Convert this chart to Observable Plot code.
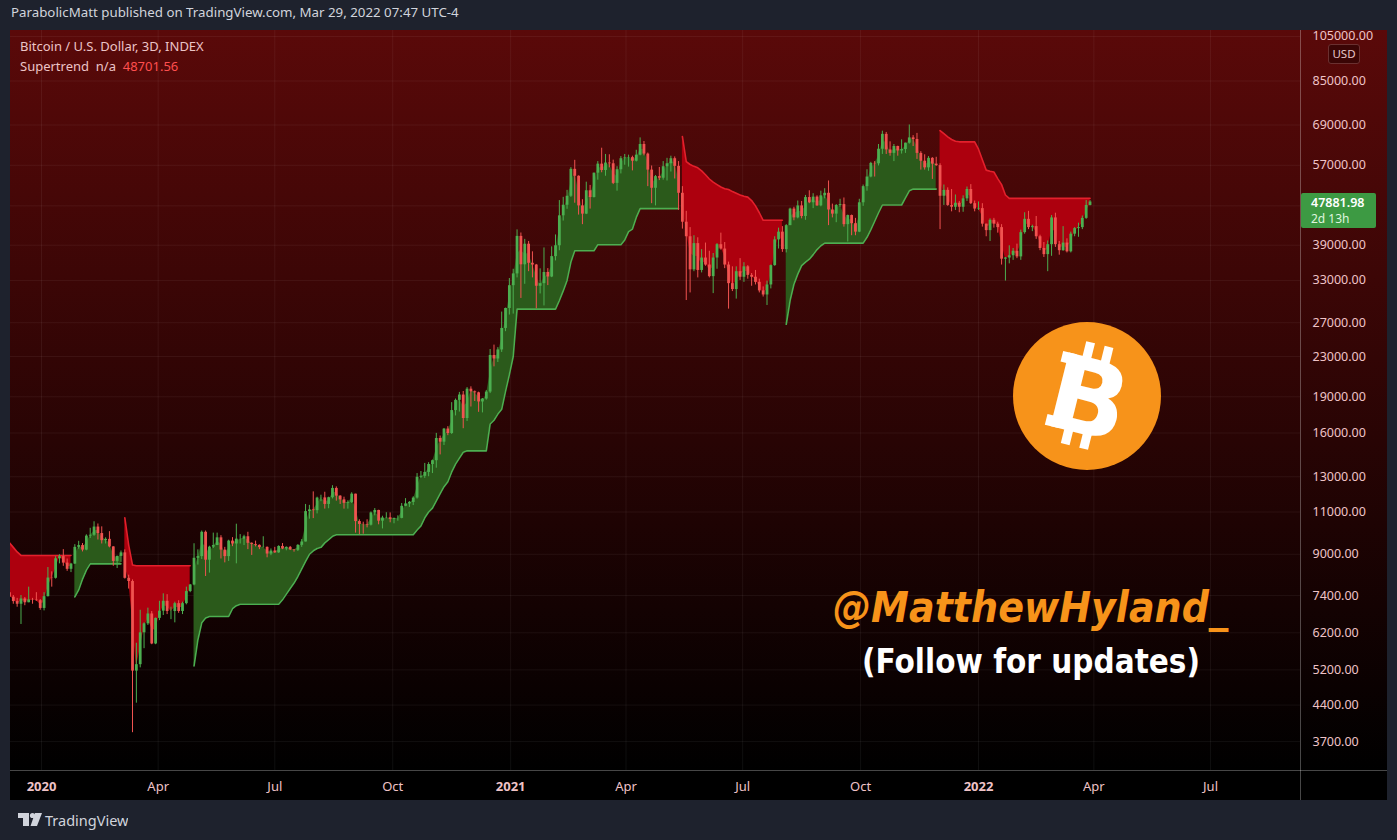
<!DOCTYPE html>
<html>
<head>
<meta charset="utf-8">
<script src="https://cdn.jsdelivr.net/npm/d3@7"></script>
<script src="https://cdn.jsdelivr.net/npm/@observablehq/plot@0.6"></script>
<style>
  html, body { margin: 0; padding: 0; }
  body { width: 1397px; height: 840px; background: #1e222d; position: relative; overflow: hidden; font-family: "Noto Sans", sans-serif; }
  #top { position: absolute; left: 11px; top: 3px; font-size: 13.3px; color: #d1d4dc; }
  #pane { position: absolute; left: 10px; top: 30px; width: 1377px; height: 770px;
          background: linear-gradient(to bottom, #5a0909 0px, #000000 740px, #000 740px, #000 770px); }
  #chart { position: absolute; left: 0; top: 0; }
  #vsep { position: absolute; left: 1290px; top: 0; width: 1px; height: 770px; background: rgba(255,255,255,0.28); }
  #hsep { position: absolute; left: 0; top: 740px; width: 1377px; height: 1px; background: rgba(255,255,255,0.28); }
  .leg { position: absolute; left: 10px; font-size: 13px; color: #ecc4c7; white-space: pre; }
  #usd { position: absolute; left: 1318px; top: 14px; width: 30px; height: 18px; border: 1px solid #6a3030; border-radius: 3px;
         background: #3a0505; color: #e8c6c9; font-size: 11.5px; text-align: center; line-height: 18px; }
  #price { position: absolute; left: 1291px; top: 163px; width: 75px; height: 35px; background: #3d9a43; border-radius: 2px; }
  #price .p { position: absolute; left: 10px; top: 1px; font-size: 12.5px; font-weight: 600; color: #ffffff; }
  #price .t { position: absolute; left: 10px; top: 17px; font-size: 12px; color: #dff5df; }
  #foot { position: absolute; left: 18px; top: 810px; }
</style>
</head>
<body>
<div id="top">ParabolicMatt published on TradingView.com, Mar 29, 2022 07:47 UTC-4</div>
<div id="pane">
  <div id="chart"></div>
  <div id="vsep"></div>
  <div id="hsep"></div>
  <div class="leg" style="top:7px">Bitcoin / U.S. Dollar, 3D, INDEX</div>
  <div class="leg" style="top:27px">Supertrend  n/a  <span style="color:#ff4f4f">48701.56</span></div>
  <div id="usd">USD</div>
  <div id="price"><div class="p">47881.98</div><div class="t">2d 13h</div></div>
</div>
<svg id="ov" width="1397" height="840" style="position:absolute;left:0;top:0;pointer-events:none">
  <circle cx="1087" cy="396" r="74" fill="#f7931a"/>
  <g transform="translate(1087,396) rotate(14)" fill="#ffffff">
    <rect x="-14" y="-53" width="9" height="18"/>
    <rect x="5" y="-53" width="9" height="18"/>
    <rect x="-14" y="34" width="9" height="18"/>
    <rect x="5" y="34" width="9" height="18"/>
    <rect x="-34" y="-38" width="14" height="11"/>
    <rect x="-34" y="27" width="14" height="11"/>
    <text x="2" y="38" text-anchor="middle" font-family="DejaVu Sans" font-weight="bold" font-size="104">B</text>
  </g>
  <text x="833" y="622" font-family="DejaVu Sans" font-weight="bold" font-style="italic" font-size="42" fill="#f7931a" textLength="395" lengthAdjust="spacingAndGlyphs">@MatthewHyland_</text>
  <text x="862" y="673" font-family="DejaVu Sans" font-weight="bold" font-size="34" fill="#ffffff" textLength="338" lengthAdjust="spacingAndGlyphs">(Follow for updates)</text>
</svg>
<div id="foot">
  <svg width="110" height="22">
    <rect x="0" y="3" width="11" height="5" fill="#d1d4dc"/>
    <rect x="5" y="3" width="6" height="13" fill="#d1d4dc"/>
    <circle cx="14.5" cy="5.5" r="2.6" fill="#d1d4dc"/>
    <polygon points="17,3 24,3 19,16 12.5,16" fill="#d1d4dc"/>
    <text x="27" y="15.5" font-family="Noto Sans" font-size="14.5" fill="#d1d4dc">TradingView</text>
  </svg>
</div>
<script>
// ---------- data (3-day candles, BTC/USD index) ----------
const firstBar = "2019-12-07";
const barDays = 3;
const firstOpen = 7500;
const closes = [
7340,7190,7100,7280,7150,7250,7240,7220,6960,7360,
8040,8030,8810,8900,8630,8380,8590,9300,9380,9180,
9810,9850,10240,9930,9600,9660,9320,8700,8910,9060,
8030,7910,5170,5330,6200,6470,6780,5880,6640,6870,
7200,6860,6860,7120,6860,7120,7540,7780,8830,8900,
9990,8750,9310,9380,9730,9180,8900,9580,9450,9670,
9670,9780,9480,9430,9390,9290,9300,9010,9140,9060,
9340,9230,9300,9190,9170,9390,9540,11020,11110,11070,
11750,11760,11400,11770,12300,11860,11650,11460,11500,11970,
10510,10370,10360,10330,10950,11080,10530,10690,10700,10620,
10670,10670,11300,11430,11510,11750,12970,13030,13270,13780,
14030,15590,15320,16300,15960,17800,18680,19160,17140,19700,
19450,19360,18540,18800,19430,23110,22730,23730,26280,28890,
32190,34040,40670,35540,39190,35800,35500,32100,32500,34270,
33540,36950,38900,44840,47150,49200,55900,54100,47000,45200,
50500,48900,54900,57300,55600,57600,57400,52300,55800,58800,
59000,59100,58100,59800,62900,60100,55700,51100,54000,53600,
56600,57400,58800,56700,49900,43500,40600,34700,39300,34600,
36700,35500,33600,36700,39100,38300,35500,32500,31600,34400,
33500,35200,33800,33500,32700,31400,30800,32300,35400,40000,
41500,38200,42800,46300,44400,47000,44700,48900,47700,49000,
47000,49300,49900,46100,45200,47100,47300,43000,44900,43200,
41500,47700,51500,53900,57500,57400,61500,66000,61300,60300,
62300,61000,61400,63300,64900,64400,60300,58100,56300,58900,
57300,56900,49200,50600,47100,46700,47600,46700,48600,50800,
47500,46300,46400,43100,41800,43900,43100,42400,36500,36700,
37100,37900,36900,41400,44100,42400,42600,40600,38400,37300,
39100,44400,39100,38000,39400,37800,41100,42200,42400,44300,
47100,47881.98
];
const highs = [
7650,7400,7300,7400,7330,7700,7300,7500,7260,7500,
8450,8280,8900,8980,9200,8800,8620,9420,9570,9470,
9870,10180,10500,10390,10250,9730,10020,9330,8920,9140,
9190,8150,7970,5900,6900,6500,6970,6860,6650,7200,
7460,7430,7000,7170,7220,7170,7700,7800,9460,9190,
10050,10050,9350,9950,9950,9830,9300,9620,9740,10380,
9880,9850,9990,9500,9580,9410,9780,9320,9230,9300,
9370,9470,9320,9340,9200,9420,9650,11400,11350,12100,
11800,11910,12080,11800,12460,12390,11880,11800,11600,12050,
11970,10600,10480,10600,11000,11180,11090,10780,10960,10950,
10680,10800,11450,11720,11560,11820,13200,13330,13850,13900,
14070,15970,15770,16350,16490,18480,18800,19400,19480,19850,
19920,19530,19420,18850,19570,23780,24280,23990,28400,28940,
33300,34800,41950,41330,40100,39700,37800,35600,34870,38500,
34900,38700,40950,48200,48950,50600,56350,58350,54200,48400,
52600,51800,54900,58000,61800,60000,59900,58400,56600,59400,
60000,59800,59500,61200,64900,63800,60400,56800,54300,56400,
58000,58900,59500,59300,58000,51500,45800,42400,40800,40400,
38200,39400,37900,37500,39300,41300,39500,36000,35200,35200,
36600,35900,35400,34100,34600,33200,32000,32900,35500,40600,
42300,42600,43000,46500,46700,48100,48000,49400,50500,49800,
49300,50400,51000,52900,47400,47300,48500,48800,45000,45000,
44300,48500,51900,55800,57800,58000,62900,67000,66600,63700,
62900,62400,64300,63300,69000,65600,66300,60800,59900,59400,
59100,59200,57400,51900,51200,50800,49500,48000,49300,51400,
52000,48100,47900,47500,43100,44200,44300,43500,43000,36800,
38900,38400,39200,41900,45500,45800,42900,44700,40900,39500,
39800,44900,45400,39700,42600,40200,41500,42400,43300,44800,
48200,48200
];
const lows = [
7300,7100,7000,6450,7050,7150,7100,7200,6900,6880,
7350,7700,8000,8600,8500,8300,8250,8580,9220,9100,
9150,9700,9800,9630,9450,9450,9280,8500,8410,8660,
8000,7630,3860,4440,5250,5750,6420,5860,5860,6570,
6730,6760,6600,6500,6800,6760,7080,7500,7750,8550,
8780,8100,8230,9250,9380,8800,8640,8700,9330,8600,
9450,9380,9200,8950,9320,9200,9270,8850,8940,9040,
9040,9200,9150,9160,9090,9120,9300,9540,10630,10660,
10900,11550,11150,11170,11700,11580,11400,11150,11150,11450,
9950,9880,9900,10200,10290,10800,10350,10150,10650,10450,
10400,10530,10650,11280,11240,11340,11690,12900,12900,13000,
13200,13540,14420,15080,15800,15890,17350,17670,16330,16900,
18100,18580,17650,17600,18700,19290,21900,22360,23450,25880,
28000,28130,33400,30300,32400,34400,33400,28850,30950,29240,
32200,33440,36200,37990,43740,46250,48930,47600,45000,43000,
45100,46300,48800,53100,55000,54100,56300,52000,50400,54700,
57000,56500,55500,57900,59600,59600,51500,47500,47000,53000,
53100,52900,55200,53400,46000,42100,30000,31100,34400,33400,
34200,35300,33400,31000,34800,38100,34900,28800,31300,30200,
33000,32700,33200,32100,32300,31100,30500,29300,31700,35300,
38300,37700,37600,42800,43800,44200,44200,43900,47500,46400,
46900,46800,48600,42800,44400,43400,46700,42500,39600,40800,
40800,41400,46900,50400,53700,53900,56800,60000,60000,59500,
58000,59500,60100,60300,63000,62300,58600,55700,55700,55400,
53300,56700,42000,47100,46900,45700,46000,45500,45600,48000,
47300,45700,46000,42500,40600,39700,42300,41300,35500,32900,
35700,36300,36600,36300,41100,42000,41600,40100,38000,36800,
34400,37000,38600,37200,37900,37600,37600,40600,40500,42000,
44100,47000
];
const supertrend = [
9500,9300,9100,8950,8950,8950,8950,8950,8950,8950,
8950,8950,8950,8950,8950,8950,8950,7350,7600,8000,
8350,8600,8600,8600,8600,8600,8600,8600,8600,8600,
10700,9400,8550,8520,8520,8520,8520,8520,8520,8520,
8520,8520,8520,8520,8520,8520,8520,8520,5300,6000,
6500,6650,6700,6700,6700,6700,6700,6700,6950,7050,
7100,7100,7100,7100,7100,7100,7100,7100,7100,7100,
7100,7250,7450,7650,7850,8100,8400,8700,9000,9150,
9250,9300,9500,9650,9800,9870,9870,9870,9870,9870,
9870,9870,9870,9870,9870,9870,9870,9870,9870,9870,
9870,9870,9870,9870,9870,9870,10100,10300,10700,11000,
11200,11600,12000,12400,12700,13300,13800,14200,14600,14700,
14700,14700,14700,14700,14700,16700,17000,17500,17900,19500,
21100,23000,28800,28800,28800,28800,28800,28800,28800,28800,
28800,28800,28800,30000,31400,33000,36000,38000,38000,38000,
38000,38000,38000,39100,39100,39100,39100,39100,39100,39100,
40000,41600,42100,44500,46400,46400,46400,46400,46400,46400,
46400,46400,46400,46400,46400,65300,58000,57200,56700,56300,
55500,54500,53400,52600,52000,51400,51000,50800,50300,49900,
49500,49200,49000,48200,47000,45500,43900,43900,43900,43900,
43900,43900,26800,30000,32400,34000,35400,36000,36500,37300,
38200,38900,39400,39400,39400,39400,39400,39400,39400,39400,
39400,39400,39400,40500,42000,43700,45500,47200,47200,47200,
47200,47200,47200,48800,50500,50900,50900,50900,50900,50900,
50900,50900,67200,66200,65200,64400,63900,63700,63700,63700,
63700,63700,61500,58500,55700,55400,55200,53500,52000,49500,
48701.56,48701.56,48701.56,48701.56,48701.56,48701.56,48701.56,48701.56,48701.56,48701.56,
48701.56,48701.56,48701.56,48701.56,48701.56,48701.56,48701.56,48701.56,48701.56,48701.56,
48701.56,48701.56
];
// grid levels of the price scale; the 47000 level's label sits under the live-price tag
const yTicks = [3700,4400,5200,6200,7400,9000,11000,13000,16000,19000,23000,27000,33000,39000,47000,57000,69000,85000,105000];
const yLabelTicks = [3700,4400,5200,6200,7400,9000,11000,13000,16000,19000,23000,27000,33000,39000,57000,69000,85000,105000];
const yearTicks = ["2020-01-01","2021-01-01","2022-01-01"];
const monthTicks = ["2020-04-01","2020-07-01","2020-10-01","2021-04-01","2021-07-01","2021-10-01","2022-04-01","2022-07-01"];

// ---------- build table ----------
const DAY = 864e5;
const t0 = Date.parse(firstBar + "T00:00:00Z");
const bars = closes.map((c, i) => {
  const o = i ? closes[i - 1] : firstOpen;
  return {date: new Date(t0 + i * barDays * DAY), open: o, close: c, high: highs[i], low: lows[i],
          st: supertrend[i], mid: (o + c) / 2, up: c >= o, dir: supertrend[i] < c ? 1 : -1};
});
let seg = 0;
bars.forEach((b, i) => { if (i && b.dir !== bars[i - 1].dir) seg++; b.seg = seg; });
const upBars = bars.filter(d => d.dir > 0);
const dnBars = bars.filter(d => d.dir < 0);
const yearDates = yearTicks.map(s => new Date(s + "T00:00:00Z"));
const monthDates = monthTicks.map(s => new Date(s + "T00:00:00Z"));
const allX = yearDates.concat(monthDates);

const G = "#4caf50", R = "#f05350";
const jan2020 = Date.UTC(2020, 0, 1);

const chart = Plot.plot({
  width: 1377, height: 770,
  marginLeft: 0, marginRight: 87, marginTop: 0, marginBottom: 30,
  style: {background: "transparent", color: "#efc3c7", fontFamily: "'Noto Sans', sans-serif", fontSize: "12.5px", overflow: "visible"},
  x: {type: "utc", domain: [new Date(jan2020 - 24.19 * DAY), new Date(jan2020 + 982.2 * DAY)]},
  y: {type: "log", domain: [3226, 108030]},
  marks: [
    Plot.ruleY(yTicks, {stroke: "#ffffff", strokeOpacity: 0.06}),
    Plot.ruleX(allX, {stroke: "#ffffff", strokeOpacity: 0.06}),
    Plot.areaY(upBars, {x: "date", y1: "mid", y2: "st", z: "seg", fill: "#2b5a1b", clip: true}),
    Plot.areaY(dnBars, {x: "date", y1: "mid", y2: "st", z: "seg", fill: "#ad000e", clip: true}),
    Plot.line(upBars, {x: "date", y: "st", z: "seg", stroke: "#4caf50", strokeWidth: 1.6, clip: true}),
    Plot.line(dnBars, {x: "date", y: "st", z: "seg", stroke: "#e3202c", strokeWidth: 1.6, clip: true}),
    Plot.ruleX(bars, {x: "date", y1: "low", y2: "high", stroke: d => d.up ? G : R, strokeWidth: 1, clip: true}),
    Plot.ruleX(bars, {x: "date", y1: "open", y2: "close", stroke: d => d.up ? G : R, strokeWidth: 2.8, clip: true}),
    Plot.axisY(yLabelTicks, {anchor: "right", tickSize: 0, tickPadding: 12, tickFormat: d3.format(".2f"), label: null}),
    Plot.axisX(yearDates, {anchor: "bottom", tickSize: 0, tickPadding: 11, tickFormat: d3.utcFormat("%Y"), fontWeight: "bold", fontSize: 13, label: null}),
    Plot.axisX(monthDates, {anchor: "bottom", tickSize: 0, tickPadding: 11, tickFormat: d3.utcFormat("%b"), fontSize: 13, label: null})
  ]
});
document.getElementById("chart").appendChild(chart);
</script>
</body>
</html>
